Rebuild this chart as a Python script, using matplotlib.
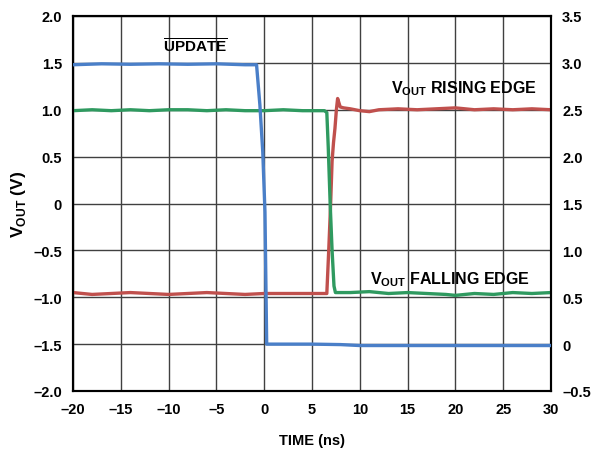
import numpy as np
import matplotlib
matplotlib.use("Agg")
import matplotlib.pyplot as plt

plt.rcParams['font.family'] = ['Liberation Sans', 'DejaVu Sans']
plt.rcParams['font.weight'] = 'bold'
plt.rcParams['mathtext.fontset'] = 'custom'
plt.rcParams['mathtext.rm'] = 'Liberation Sans:bold'
plt.rcParams['mathtext.bf'] = 'Liberation Sans:bold'

# UPDATE signal (right axis)
update_t = [-20, -17, -14, -11, -8, -5, -2, -0.8, -0.45, -0.15, 0.08, 0.26, 2, 5, 8, 10, 15, 20, 25, 30]
update_v = [2.98, 2.99, 2.985, 2.99, 2.985, 2.99, 2.98, 2.98, 2.55, 2.05, 1.41, 0.0,
            0.0, 0.0, -0.005, -0.015, -0.015, -0.015, -0.015, -0.015]

# VOUT rising edge (left axis)
rise_t = [-20, -18, -16, -14, -12, -10, -8, -6, -4, -2, 0, 2, 4, 6.3, 6.55, 6.75, 6.95, 7.1,
          7.25, 7.4, 7.55, 7.68, 7.8, 7.95, 8.3, 9, 10, 11, 12, 14, 16, 18, 20, 22, 24, 26, 28, 30]
rise_v = [-0.95, -0.97, -0.96, -0.95, -0.96, -0.97, -0.96, -0.95, -0.96, -0.97, -0.96, -0.96,
          -0.96, -0.96, -0.96, -0.5, 0.0, 0.45, 0.65, 0.8, 1.0, 1.12, 1.08, 1.03, 1.02, 1.01,
          0.99, 0.98, 1.0, 1.01, 1.0, 1.01, 1.02, 1.0, 1.01, 1.0, 1.01, 1.0]

# VOUT falling edge (left axis)
fall_t = [-20, -18, -16, -14, -12, -10, -8, -6, -4, -2, 0, 2, 4, 6.3, 6.55, 6.7, 6.9, 7.1,
          7.3, 7.45, 7.7, 9, 11, 13, 15, 17, 19, 20, 22, 24, 26, 28, 30]
fall_v = [0.99, 1.0, 0.99, 1.0, 0.99, 1.0, 1.0, 0.99, 1.0, 0.99, 0.99, 1.0, 0.99, 0.99,
          0.97, 0.6, 0.0, -0.5, -0.88, -0.95, -0.95, -0.95, -0.94, -0.96, -0.95, -0.96,
          -0.97, -0.98, -0.96, -0.97, -0.95, -0.96, -0.95]

blue = '#4a7fc8'
red = '#c0504d'
green = '#2f9a60'

fig = plt.figure(figsize=(5.95, 4.52), dpi=100)
ax = fig.add_axes([73/595, 60/452, 478/595, 375/452])
ax2 = ax.twinx()

ax.plot(rise_t, rise_v, color=red, lw=2.4, zorder=3)
ax.plot(fall_t, fall_v, color=green, lw=2.4, zorder=3)
ax2.plot(update_t, update_v, color=blue, lw=2.4, zorder=3)

ax.set_xlim(-20, 30)
ax.set_ylim(-2.0, 2.0)
ax2.set_ylim(-0.5, 3.5)
ax.set_xticks(np.arange(-20, 31, 5))
ax.set_xticklabels(['\u201320', '\u201315', '\u201310', '\u20135', '0', '5', '10', '15', '20', '25', '30'])
ax.set_yticks(np.arange(-2.0, 2.01, 0.5))
ax.set_yticklabels(['\u20132.0', '\u20131.5', '\u20131.0', '\u20130.5', '0', '0.5', '1.0', '1.5', '2.0'])
ax2.set_yticks(np.arange(-0.5, 3.51, 0.5))
ax2.set_yticklabels(['\u20130.5', '0', '0.5', '1.0', '1.5', '2.0', '2.5', '3.0', '3.5'])

ax.grid(True, color='#404040', lw=1.0)
ax.set_axisbelow(True)
for a in (ax, ax2):
    a.tick_params(length=0, labelsize=10.5, pad=8)
    for s in a.spines.values():
        s.set_linewidth(1.5)
        s.set_color('black')

ax.set_xlabel('TIME (ns)', fontsize=10.5, fontweight='bold', labelpad=12)
ax.set_ylabel(r'V$_{\mathrm{OUT}}$ (V)', fontsize=12.5, fontweight='bold', labelpad=4)

ax.text(-7.2, 1.68, r'$\overline{\mathrm{UPDATE}}$', fontsize=11, ha='center', va='center')
ax.text(28.5, 1.24, r'V$_{\mathrm{OUT}}$ RISING EDGE', fontsize=11.5, ha='right', va='center')
ax.text(27.8, -0.80, r'V$_{\mathrm{OUT}}$ FALLING EDGE', fontsize=11.5, ha='right', va='center')

fig.savefig('out.png', dpi=100)
